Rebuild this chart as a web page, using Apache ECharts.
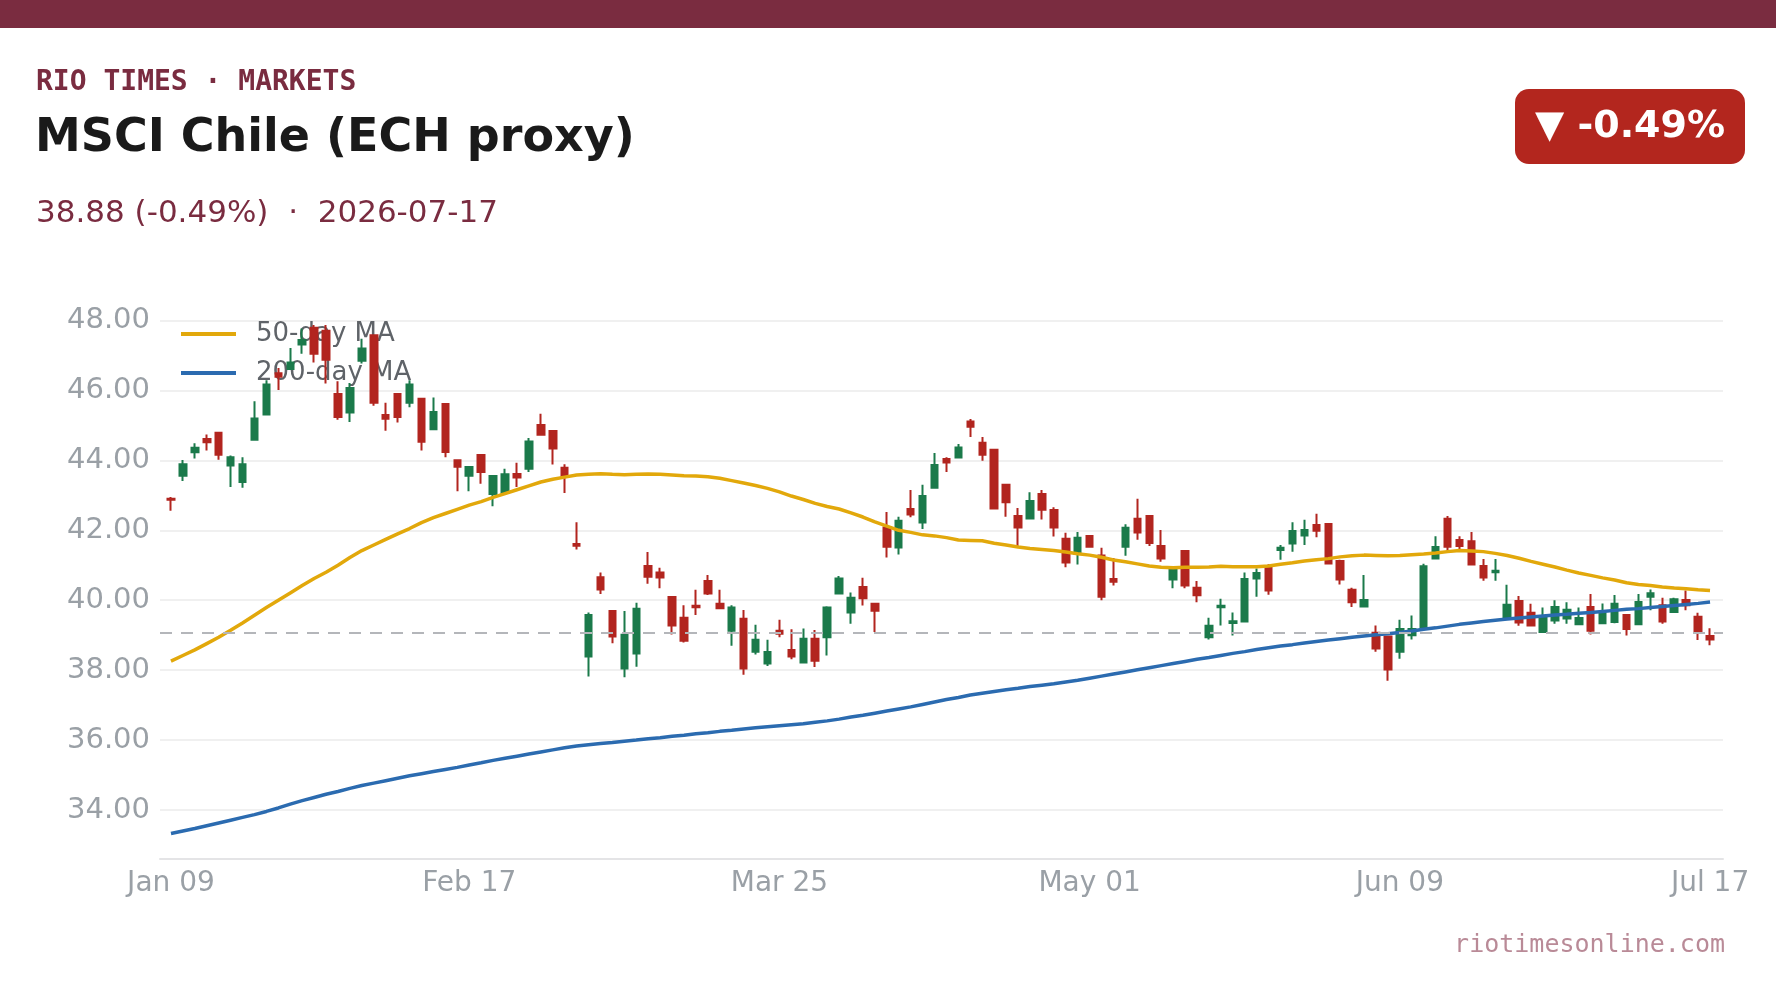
<!DOCTYPE html>
<html>
<head>
<meta charset="utf-8">
<script src="https://cdn.jsdelivr.net/npm/echarts@6/dist/echarts.min.js"></script>
<style>
  html, body { margin: 0; padding: 0; background: #fff; }
  #chart { width: 1776px; height: 999px; }
</style>
</head>
<body>
<div id="chart"></div>
<script>
// trading days Jan 09 - Jul 17 2026 (US market holidays skipped)
var holidays = ['2026-01-19', '2026-02-16', '2026-04-03', '2026-05-25', '2026-06-19', '2026-07-03'];
var monthNames = ['Jan', 'Feb', 'Mar', 'Apr', 'May', 'Jun', 'Jul', 'Aug', 'Sep', 'Oct', 'Nov', 'Dec'];
var tickIdx = [0, 25, 51, 77, 103, 129];
var prevClose = 39.07;
var yTicks = [34, 36, 38, 40, 42, 44, 46, 48];

var openP = [42.90, 43.56, 44.23, 44.61, 44.79, 43.85, 43.38, 44.59, 45.31, 46.49,
	46.61, 47.31, 47.79, 47.71, 45.90, 45.37, 46.85, 47.58, 45.30, 45.90,
	45.65, 45.76, 44.89, 45.61, 44.00, 43.56, 44.15, 43.04, 43.07, 43.61,
	43.76, 45.01, 44.84, 43.79, 41.61, 38.39, 40.66, 39.69, 38.05, 38.48,
	40.98, 40.79, 40.09, 39.50, 39.84, 40.55, 39.90, 39.13, 39.47, 38.53,
	38.19, 39.13, 38.58, 38.22, 38.90, 38.94, 40.19, 39.65, 40.38, 39.90,
	42.08, 41.51, 42.61, 42.22, 43.22, 44.04, 44.08, 45.11, 44.50, 44.30,
	43.30, 42.41, 42.34, 43.04, 42.58, 41.76, 41.32, 41.84, 41.28, 40.61,
	41.53, 42.33, 42.41, 41.55, 40.59, 41.41, 40.36, 38.94, 39.80, 39.35,
	39.39, 40.62, 40.93, 41.44, 41.62, 41.85, 42.15, 42.18, 41.12, 40.30,
	39.82, 39.07, 38.96, 38.53, 39.00, 39.19, 41.19, 42.33, 41.72, 41.69,
	40.98, 40.80, 39.47, 39.98, 39.64, 39.09, 39.42, 39.48, 39.31, 39.81,
	39.34, 39.38, 39.58, 39.31, 40.10, 39.86, 39.66, 40.01, 39.53, 38.98];
var closeP = [42.87, 43.89, 44.36, 44.52, 44.16, 44.09, 43.89, 45.20, 46.17, 46.39,
	46.80, 47.44, 47.05, 46.88, 45.24, 46.07, 47.20, 45.65, 45.19, 45.24,
	46.17, 44.53, 45.38, 44.24, 43.82, 43.81, 43.67, 43.55, 43.60, 43.51,
	44.54, 44.73, 44.34, 43.54, 41.56, 39.58, 40.31, 38.96, 39.01, 39.76,
	40.67, 40.65, 39.28, 38.84, 39.80, 40.19, 39.77, 39.79, 38.05, 38.87,
	38.52, 39.04, 38.39, 38.90, 38.27, 39.79, 40.62, 40.07, 40.06, 39.70,
	41.53, 42.27, 42.45, 42.98, 43.87, 43.94, 44.37, 44.96, 44.16, 42.62,
	42.80, 42.08, 42.84, 42.59, 42.08, 41.08, 41.79, 41.53, 40.10, 40.53,
	42.07, 41.94, 41.64, 41.19, 40.88, 40.42, 40.14, 39.27, 39.84, 39.40,
	40.61, 40.78, 40.28, 41.50, 41.98, 42.01, 41.99, 41.05, 40.59, 39.94,
	40.01, 38.62, 38.02, 39.18, 39.18, 40.97, 41.52, 41.53, 41.55, 41.02,
	40.65, 40.84, 39.87, 39.36, 39.28, 39.50, 39.81, 39.73, 39.49, 39.13,
	39.62, 39.90, 39.18, 39.95, 40.20, 39.39, 40.03, 39.86, 39.06, 38.88];
var lowP = [42.56, 43.41, 44.05, 44.28, 44.02, 43.24, 43.22, 44.59, 45.31, 46.01,
	46.61, 47.05, 46.80, 46.20, 45.16, 45.10, 46.77, 45.56, 44.85, 45.08,
	45.52, 44.28, 44.89, 44.09, 43.12, 43.12, 43.33, 42.69, 43.07, 43.24,
	43.67, 44.73, 43.88, 43.07, 41.45, 37.82, 40.18, 38.77, 37.80, 38.10,
	40.47, 40.34, 39.02, 38.79, 39.58, 40.15, 39.77, 38.70, 37.87, 38.45,
	38.12, 38.94, 38.31, 38.22, 38.09, 38.42, 40.19, 39.33, 39.85, 39.09,
	41.22, 41.31, 42.37, 42.04, 43.22, 43.67, 44.08, 44.67, 43.99, 42.62,
	42.39, 41.55, 42.34, 42.31, 41.82, 40.94, 41.02, 41.51, 40.00, 40.42,
	41.27, 41.73, 41.55, 41.10, 40.34, 40.34, 39.94, 38.88, 39.28, 38.99,
	39.39, 40.10, 40.16, 41.16, 41.39, 41.58, 41.80, 41.05, 40.45, 39.81,
	39.82, 38.53, 37.70, 38.33, 38.88, 39.19, 41.19, 41.40, 41.44, 41.02,
	40.56, 40.56, 39.47, 39.27, 39.28, 39.09, 39.33, 39.33, 39.31, 39.02,
	39.34, 39.34, 38.99, 39.31, 39.71, 39.33, 39.66, 39.71, 38.86, 38.71];
var highP = [42.95, 44.01, 44.49, 44.74, 44.80, 44.14, 44.09, 45.69, 46.29, 46.64,
	47.21, 47.77, 47.87, 47.87, 46.26, 46.21, 47.48, 47.58, 45.65, 45.90,
	46.29, 45.76, 45.80, 45.64, 44.00, 43.81, 44.18, 43.55, 43.76, 43.93,
	44.64, 45.33, 44.84, 43.89, 42.23, 39.65, 40.79, 39.69, 39.69, 39.93,
	41.38, 40.93, 40.09, 39.86, 40.30, 40.72, 40.30, 39.86, 39.72, 39.30,
	38.87, 39.44, 39.17, 39.19, 39.15, 39.83, 40.69, 40.22, 40.64, 39.90,
	42.52, 42.39, 43.15, 43.30, 44.21, 44.09, 44.47, 45.18, 44.67, 44.30,
	43.33, 42.64, 43.09, 43.15, 42.66, 41.93, 41.95, 41.84, 41.50, 41.21,
	42.17, 42.90, 42.41, 42.01, 40.96, 41.41, 40.55, 39.50, 40.04, 39.65,
	40.79, 40.91, 41.03, 41.58, 42.23, 42.30, 42.47, 42.18, 41.16, 40.36,
	40.72, 39.28, 38.99, 39.44, 39.56, 41.04, 41.83, 42.41, 41.83, 41.95,
	41.18, 41.18, 40.44, 40.12, 39.90, 39.79, 40.00, 39.94, 39.79, 40.18,
	39.91, 40.15, 39.60, 40.18, 40.31, 40.07, 40.07, 40.28, 39.64, 39.20];
var ma50 = [38.26, 38.42, 38.58, 38.76, 38.94, 39.14, 39.35, 39.57, 39.79, 40.00,
	40.21, 40.42, 40.62, 40.80, 41.00, 41.22, 41.42, 41.58, 41.74, 41.90,
	42.05, 42.22, 42.36, 42.48, 42.60, 42.72, 42.82, 42.94, 43.05, 43.16,
	43.27, 43.38, 43.46, 43.52, 43.58, 43.60, 43.62, 43.60, 43.59, 43.60,
	43.61, 43.60, 43.58, 43.56, 43.55, 43.53, 43.49, 43.42, 43.35, 43.28,
	43.20, 43.10, 42.98, 42.88, 42.77, 42.68, 42.61, 42.50, 42.38, 42.24,
	42.12, 42.00, 41.94, 41.87, 41.84, 41.79, 41.72, 41.71, 41.70, 41.63,
	41.58, 41.52, 41.48, 41.45, 41.42, 41.38, 41.33, 41.29, 41.23, 41.15,
	41.10, 41.04, 40.98, 40.94, 40.93, 40.94, 40.94, 40.95, 40.97, 40.96,
	40.96, 40.96, 40.98, 41.03, 41.07, 41.12, 41.16, 41.19, 41.24, 41.27,
	41.29, 41.28, 41.27, 41.28, 41.30, 41.32, 41.35, 41.39, 41.42, 41.41,
	41.39, 41.34, 41.28, 41.20, 41.11, 41.03, 40.95, 40.86, 40.78, 40.71,
	40.64, 40.58, 40.50, 40.45, 40.42, 40.38, 40.35, 40.33, 40.30, 40.28];
var ma200 = [33.33, 33.40, 33.47, 33.55, 33.63, 33.71, 33.79, 33.87, 33.96, 34.06,
	34.17, 34.27, 34.36, 34.45, 34.53, 34.62, 34.70, 34.77, 34.84, 34.91,
	34.98, 35.04, 35.10, 35.16, 35.22, 35.29, 35.35, 35.42, 35.48, 35.54,
	35.60, 35.66, 35.72, 35.78, 35.83, 35.87, 35.90, 35.93, 35.97, 36.00,
	36.04, 36.07, 36.11, 36.14, 36.18, 36.21, 36.25, 36.28, 36.32, 36.35,
	36.38, 36.41, 36.44, 36.47, 36.51, 36.55, 36.60, 36.66, 36.71, 36.77,
	36.83, 36.89, 36.95, 37.02, 37.09, 37.16, 37.22, 37.29, 37.34, 37.39,
	37.44, 37.48, 37.53, 37.57, 37.61, 37.66, 37.71, 37.77, 37.83, 37.89,
	37.95, 38.01, 38.07, 38.13, 38.19, 38.25, 38.31, 38.36, 38.42, 38.48,
	38.53, 38.59, 38.64, 38.69, 38.73, 38.78, 38.82, 38.86, 38.90, 38.94,
	38.98, 39.01, 39.04, 39.08, 39.12, 39.17, 39.21, 39.26, 39.31, 39.35,
	39.39, 39.43, 39.46, 39.49, 39.52, 39.55, 39.58, 39.60, 39.63, 39.65,
	39.68, 39.71, 39.74, 39.76, 39.79, 39.82, 39.85, 39.88, 39.91, 39.95];

var dates = [];
var d = new Date(Date.UTC(2026, 0, 9));
var end = new Date(Date.UTC(2026, 6, 17));
while (d <= end) {
	var wd = d.getUTCDay();
	var iso = d.toISOString().slice(0, 10);
	if (wd != 0 && wd != 6 && holidays.indexOf(iso) < 0) {
		var dd = d.getUTCDate();
		dates.push(monthNames[d.getUTCMonth()] + ' ' + (dd < 10 ? '0' + dd : dd));
	}
	d.setUTCDate(d.getUTCDate() + 1);
}

var candles = [];
for (var i = 0; i < openP.length; i++) {
	candles.push([openP[i], closeP[i], lowP[i], highP[i]]);
}

var up = '#1b7a4b';
var down = '#b2251f';
var maroon = '#7a2c40';
var yMin = 32.6, yMax = 48.5;
var gridTop = 303, gridH = 556;

var chart = echarts.init(document.getElementById('chart'));
var option = {
	backgroundColor: '#fff',
	animation: false,
	textStyle: { fontFamily: 'DejaVu Sans' },
	graphic: [
		{ type: 'rect', shape: { x: 0, y: 0, width: 1776, height: 28 }, style: { fill: maroon } },
		{ type: 'text', style: { x: 36, y: 83, text: 'RIO TIMES · MARKETS', font: 'bold 28px "DejaVu Sans Mono"', fill: maroon, verticalAlign: 'middle' } },
		{ type: 'text', style: { x: 35, y: 139, text: 'MSCI Chile (ECH proxy)', font: 'bold 46px "DejaVu Sans"', fill: '#1a1a1a', verticalAlign: 'middle' } },
		{ type: 'text', style: { x: 36, y: 214, text: '38.88 (-0.49%)  ·  2026-07-17', font: '31px "DejaVu Sans"', fill: maroon, verticalAlign: 'middle' } },
		{ type: 'rect', shape: { x: 1515, y: 89, width: 230, height: 75, r: 14 }, style: { fill: '#b3261e' } },
		{ type: 'text', style: { x: 1630, y: 127, text: '▼ -0.49%', font: 'bold 38px "DejaVu Sans"', fill: '#fff', align: 'center', verticalAlign: 'middle' } },
		{ type: 'text', style: { x: 1725, y: 945, text: 'riotimesonline.com', font: '25px "DejaVu Sans Mono"', fill: '#b98a97', align: 'right', verticalAlign: 'middle' } }
	],
	legend: {
		orient: 'vertical',
		left: 181,
		top: 320,
		padding: 0,
		z: 1,
		itemWidth: 55,
		itemHeight: 4,
		itemGap: 11,
		icon: 'rect',
		textStyle: { color: '#5f6368', fontSize: 26, lineHeight: 28, padding: [0, 0, 0, 15] },
		data: ['50-day MA', '200-day MA']
	},
	grid: [
		{ left: 160, right: 53, top: gridTop, height: gridH },
		{ left: 165, right: 60, top: gridTop, height: gridH }
	],
	xAxis: [
		{
			gridIndex: 0, type: 'value', min: 0, max: 1,
			axisLine: { show: true, onZero: false, lineStyle: { color: '#e4e4e6', width: 2 } },
			axisTick: { show: false }, axisLabel: { show: false }, splitLine: { show: false }
		},
		{
			gridIndex: 1, type: 'category', data: dates, boundaryGap: true,
			axisLine: { show: false }, axisTick: { show: false }, splitLine: { show: false },
			axisLabel: {
				interval: function (idx) { return tickIdx.indexOf(idx) >= 0; },
				color: '#9aa0a6', fontSize: 28, margin: 11
			}
		}
	],
	yAxis: [
		{
			gridIndex: 0, type: 'value', min: yMin, max: yMax,
			axisLine: { show: false },
			axisTick: { show: false, customValues: yTicks },
			axisLabel: {
				customValues: yTicks, color: '#9aa0a6', fontSize: 29, margin: 10,
				formatter: function (v) { return v.toFixed(2); }
			},
			splitLine: { show: true, lineStyle: { color: '#f0f0f0', width: 2 } }
		},
		{
			gridIndex: 1, type: 'value', min: yMin, max: yMax, show: false,
			splitLine: { show: false }
		}
	],
	series: [
		{
			type: 'line', xAxisIndex: 0, yAxisIndex: 0, data: [],
			markLine: {
				silent: true, symbol: 'none', label: { show: false },
				lineStyle: { color: '#b4b6ba', type: [12, 9], width: 2 },
				data: [{ yAxis: prevClose }]
			}
		},
		{
			name: 'OHLC', type: 'candlestick', xAxisIndex: 1, yAxisIndex: 1,
			data: candles, barWidth: 7,
			itemStyle: { color: up, color0: down, borderColor: up, borderColor0: down, borderWidth: 2 }
		},
		{
			name: '50-day MA', type: 'line', xAxisIndex: 1, yAxisIndex: 1,
			data: ma50, showSymbol: false, smooth: false,
			lineStyle: { color: '#e2a80b', width: 3.5 }, itemStyle: { color: '#e2a80b' }
		},
		{
			name: '200-day MA', type: 'line', xAxisIndex: 1, yAxisIndex: 1,
			data: ma200, showSymbol: false,
			lineStyle: { color: '#2b6bb0', width: 3.5 }, itemStyle: { color: '#2b6bb0' }
		}
	]
};
chart.setOption(option);
window.addEventListener('resize', function () { chart.resize(); });
</script>
</body>
</html>
